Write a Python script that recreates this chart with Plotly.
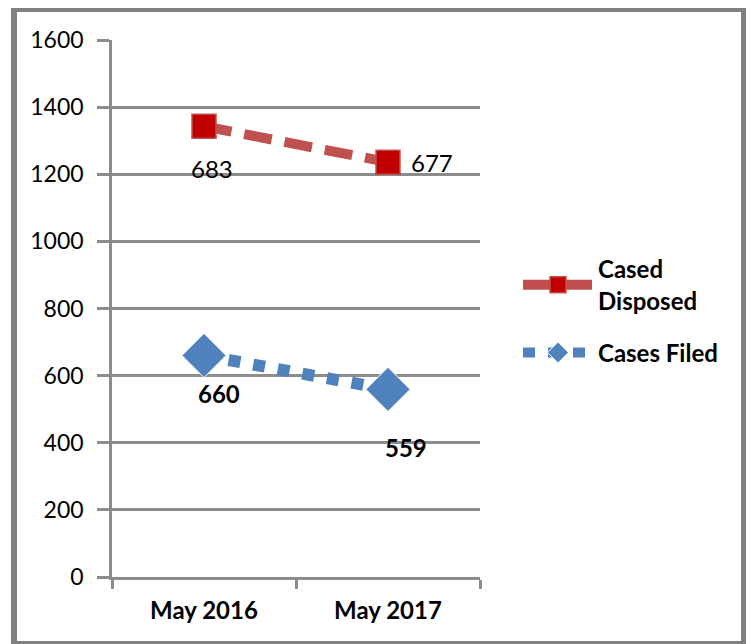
import plotly.graph_objects as go

categories = ["May 2016", "May 2017"]
cases_filed = [660, 559]
cased_disposed = [683, 677]
y_ticks = [0, 200, 400, 600, 800, 1000, 1200, 1400, 1600]

# stacked line chart: disposed stacked on top of filed
disposed_stacked = [f + d for f, d in zip(cases_filed, cased_disposed)]

FONT = "Lato, Open Sans, sans-serif"
RED_LINE = "#C0504D"
RED_MARK = "#C00000"
BLUE = "#4F81BD"
GRID = "#8C8C8C"
BORDER = "#808080"

W, H = 746, 636
L, R, T, B = 104, 274, 32, 67
PW, PH = W - L - R, H - T - B


def px(x):
    return (x - L) / PW


def py(y):
    return (H - B - y) / PH


fig = go.Figure()
fig.add_trace(go.Scatter(
    x=categories, y=disposed_stacked, name="Cased<br>Disposed", legendgroup="d",
    mode="lines+markers",
    line=dict(color=RED_LINE, width=10, dash="28px,13px"),
    marker=dict(symbol="square", size=24, color=RED_MARK,
                line=dict(color=RED_LINE, width=1.5)),
))
fig.add_trace(go.Scatter(
    x=categories, y=cases_filed, name="Cases Filed", legendgroup="f",
    mode="lines+markers",
    line=dict(color=BLUE, width=12, dash="12px,13px"),
    marker=dict(symbol="diamond", size=34, color=BLUE,
                line=dict(color="white", width=1)),
))

annotations = []
d_shifts = [(8, -42), (44, 0)]
for c, ys, v, (dx, dy) in zip(categories, disposed_stacked, cased_disposed, d_shifts):
    annotations.append(dict(x=c, y=ys, text=str(v), showarrow=False,
                            xshift=dx, yshift=dy,
                            font=dict(family=FONT, size=24, color="black")))
f_shifts = [(15, -38), (18, -58)]
for c, v, (dx, dy) in zip(categories, cases_filed, f_shifts):
    annotations.append(dict(x=c, y=v, text="<b>%d</b>" % v, showarrow=False,
                            xshift=dx, yshift=dy,
                            font=dict(family=FONT, size=24, color="black")))

# border strips (figure pixel coords -> paper)
strips = [(3, 9, 0, 636), (3, 746, 0, 4), (733, 746, 0, 636), (3, 746, 633, 636)]
shapes = [dict(type="rect", xref="paper", yref="paper",
               x0=px(a), x1=px(b), y0=py(d), y1=py(c),
               fillcolor=BORDER, line=dict(width=0), layer="above")
          for a, b, c, d in strips]

fig.update_layout(
    width=W, height=H,
    margin=dict(l=L, r=R, t=T, b=B),
    paper_bgcolor="white", plot_bgcolor="white",
    font=dict(family=FONT, size=23, color="black"),
    showlegend=True,
    legend=dict(x=px(510), y=py(239), xanchor="left", yanchor="top",
                itemwidth=70, tracegroupgap=18,
                font=dict(family=FONT, size=24, color="black", weight="bold"),
                bgcolor="rgba(0,0,0,0)"),
    annotations=annotations,
    shapes=shapes,
    xaxis=dict(
        type="category", showgrid=False, showline=True, linecolor=GRID, linewidth=2.5,
        ticks="outside", tickson="boundaries", ticklen=9, tickwidth=2.5, tickcolor=GRID,
        tickfont=dict(family=FONT, size=24, color="black", weight="bold"),
        ticklabelstandoff=10,
        range=[-0.5, 1.5], fixedrange=True,
    ),
    yaxis=dict(
        range=[0, 1600], tickvals=y_ticks, showgrid=True, gridcolor=GRID, gridwidth=2.5,
        showline=True, linecolor=GRID, linewidth=2.5, zeroline=False,
        ticks="outside", ticklen=12, tickwidth=2.5, tickcolor=GRID,
        tickfont=dict(family=FONT, size=23, color="black"),
        ticklabelstandoff=9,
    ),
)

fig.write_html("out.html")
